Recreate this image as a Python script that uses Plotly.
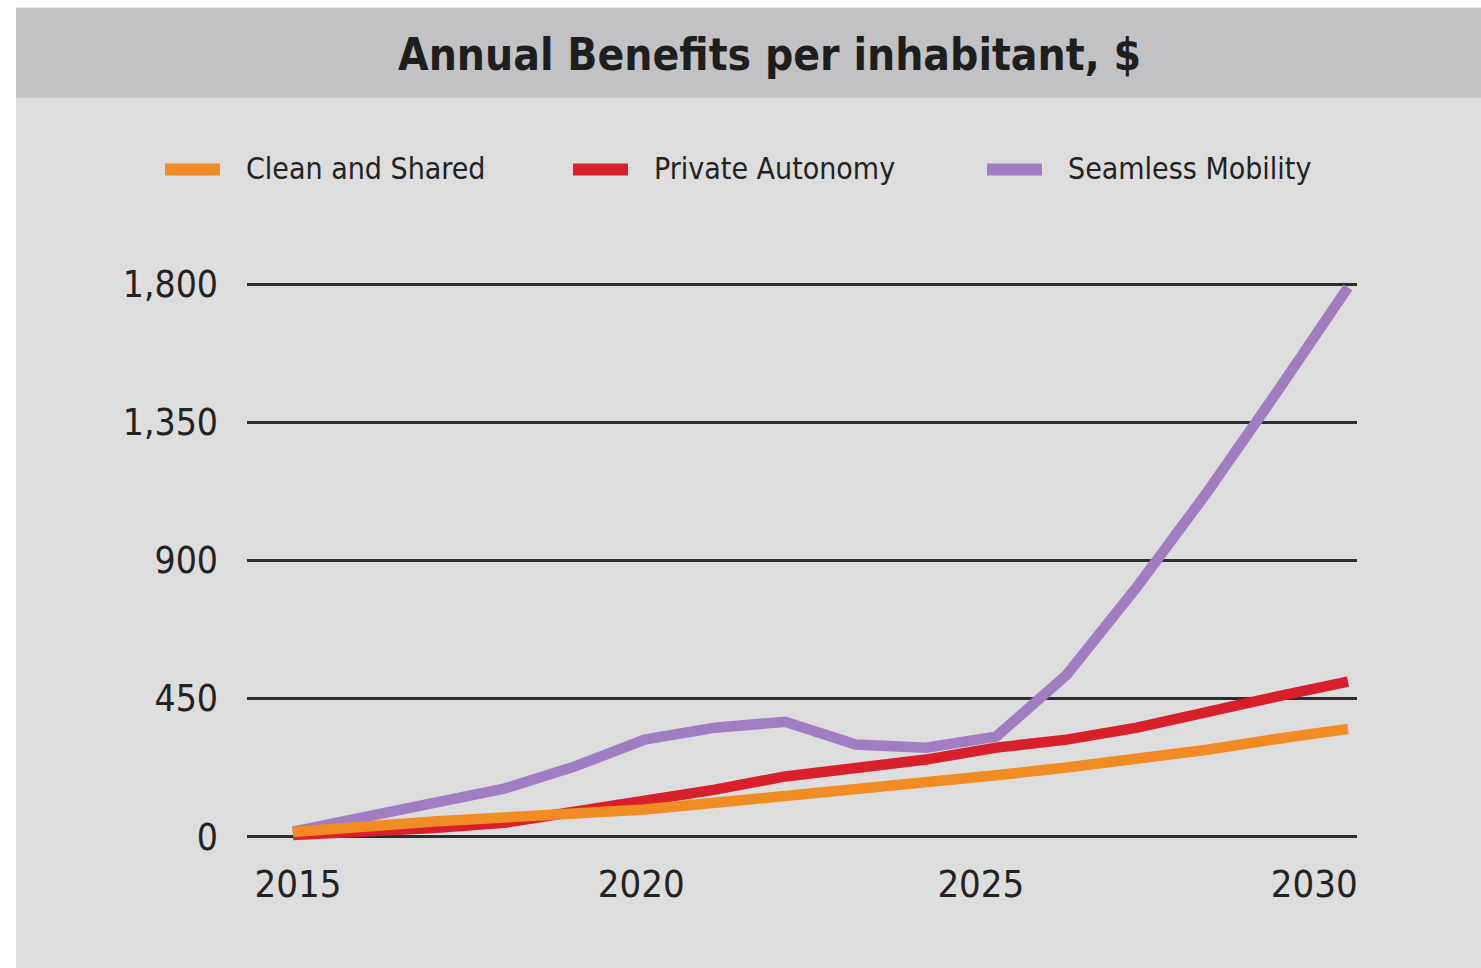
import plotly.graph_objects as go

# ---------------- data ----------------
years = list(range(2015, 2031))
series_names = ["Clean and Shared", "Private Autonomy", "Seamless Mobility"]
clean_shared = [15, 36, 49, 62, 75, 88, 110, 131, 153, 180, 200, 225, 251, 283, 319, 351]
private_autonomy = [5, 15, 28, 45, 80, 115, 153, 196, 225, 251, 290, 316, 355, 408, 457, 505]
seamless_mobility = [16, 63, 110, 156, 228, 316, 355, 374, 300, 290, 326, 527, 814, 1123, 1452, 1790]
y_ticks = [0, 450, 900, 1350, 1800]
x_tick_labels = ["2015", "2020", "2025", "2030"]
x_tick_pos = [2015.07, 2019.95, 2024.78, 2029.52]

# ---------------- style ----------------
colors = {"Clean and Shared": "#f08c23", "Private Autonomy": "#d7202b", "Seamless Mobility": "#a07cc1"}
FONT = "DejaVu Sans Condensed, Roboto, sans-serif"
W, H = 1481, 968
ML, MR, MT, MB = 247, 124, 268.6, 112.6
PW = W - ML - MR
PH = H - MT - MB


def px_x(px):
    return (px - ML) / PW


def px_y(py):
    return (H - MB - py) / PH


fig = go.Figure()

values = {
    "Clean and Shared": clean_shared,
    "Private Autonomy": private_autonomy,
    "Seamless Mobility": seamless_mobility,
}
# draw order: purple bottom, orange on top
for name in ["Seamless Mobility", "Private Autonomy", "Clean and Shared"]:
    fig.add_trace(go.Scatter(
        x=years, y=values[name], mode="lines", name=name,
        line=dict(color=colors[name], width=10.5),
        showlegend=False, hoverinfo="x+y+name",
    ))

shapes = [
    dict(type="rect", xref="paper", yref="paper", x0=px_x(16), x1=px_x(W + 5), y0=px_y(7), y1=px_y(H + 5),
         fillcolor="#dddddd", line=dict(width=0), layer="below"),
    dict(type="rect", xref="paper", yref="paper", x0=px_x(16), x1=px_x(W + 5), y0=px_y(7), y1=px_y(97),
         fillcolor="#c2c2c5", line=dict(width=0), layer="below"),
]
annotations = []
legend_x = [(165, 244), (573, 652), (987, 1066)]
for name, (sx, tx) in zip(series_names, legend_x):
    shapes.append(dict(type="line", xref="paper", yref="paper",
                       x0=px_x(sx), x1=px_x(sx + 55), y0=px_y(169), y1=px_y(169),
                       line=dict(color=colors[name], width=12)))
    annotations.append(dict(text=name, xref="paper", yref="paper", x=px_x(tx), y=px_y(168),
                            xanchor="left", yanchor="middle", showarrow=False,
                            font=dict(family=FONT, size=30, color="#222222")))

annotations.append(dict(text="<b>Annual Benefits per inhabitant, $</b>", xref="paper", yref="paper",
                        x=px_x(769), y=px_y(54), xanchor="center", yanchor="middle", showarrow=False,
                        font=dict(family=FONT, size=44, color="#1e1e1e")))

fig.update_layout(
    width=W, height=H,
    margin=dict(l=ML, r=MR, t=MT, b=MB, pad=0),
    paper_bgcolor="white",
    plot_bgcolor="rgba(0,0,0,0)",
    shapes=shapes,
    annotations=annotations,
    showlegend=False,
    xaxis=dict(range=[2014.346, 2030.128], showgrid=False, zeroline=False, showline=False,
               tickvals=x_tick_pos, ticktext=x_tick_labels, ticks="",
               tickfont=dict(family=FONT, size=38, color="#222222"), ticklabelstandoff=3),
    yaxis=dict(range=[-60, 1850], tickvals=y_ticks, tickformat=",", showgrid=True,
               gridcolor="#2e2e2e", gridwidth=2.5, zeroline=False, showline=False, ticks="",
               tickfont=dict(family=FONT, size=37, color="#222222"), ticklabelstandoff=28),
)

fig.write_html("out.html")
